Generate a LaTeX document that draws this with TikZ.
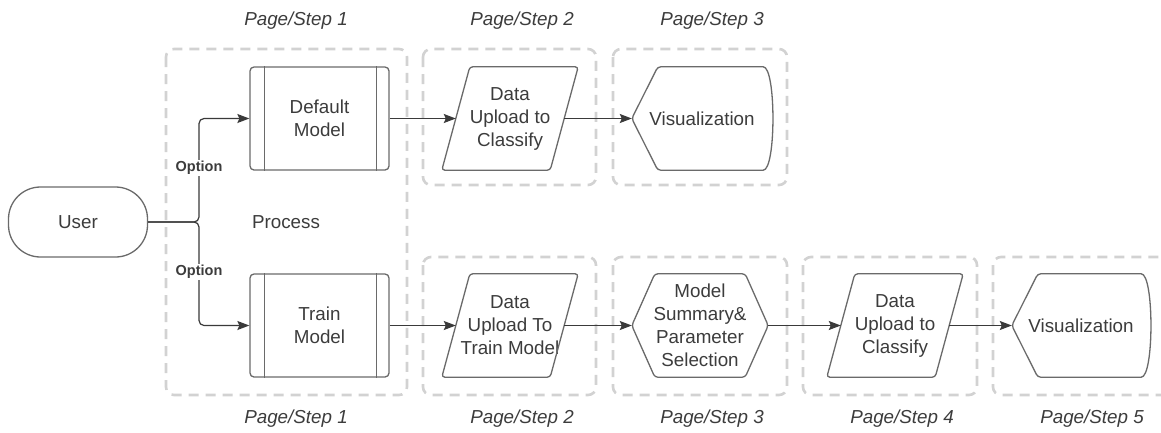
\documentclass[tikz,border=0pt]{standalone}
\usepackage{fontspec}
\setmainfont{Liberation Sans}
\usetikzlibrary{arrows.meta}
\definecolor{txt}{HTML}{3C3C3C}
\definecolor{edge}{HTML}{6A6A6A}
\definecolor{conncol}{HTML}{3A3A3A}
\definecolor{dash}{HTML}{D2D2D2}
\tikzset{
  lbl/.style={text=txt, font=\fontsize{18.8}{23}\selectfont, align=center, inner sep=0pt},
  hold/.style={lbl, minimum height=103pt},
  shp/.style={draw=edge, line width=1.3pt, rounded corners=3pt},
  conn/.style={draw=conncol, line width=1.2pt, -{Stealth[length=12pt,width=9pt,inset=2pt]}},
  grp/.style={draw=dash, line width=2.6pt, dash pattern=on 10pt off 7pt, rounded corners=8pt},
  steplbl/.style={text=txt, font=\fontsize{18.8}{23}\selectfont\itshape, inner sep=0pt},
  opt/.style={text=txt, font=\fontsize{14.5}{16}\selectfont\bfseries, fill=white, inner sep=1.5pt}
}
\begin{document}
\begin{tikzpicture}[x=1pt,y=-1pt]
\useasboundingbox (0,0) rectangle (1161,432);
\clip (0,0) rectangle (1161,432);
\fill[white] (0,0) rectangle (1161,432);

% group boxes
\draw[grp] (166,49) rectangle (407,395);
\draw[grp] (423,49) rectangle (596,185);
\draw[grp] (613,49) rectangle (787,185);
\draw[grp] (423,257) rectangle (596,395);
\draw[grp] (613,257) rectangle (787,395);
\draw[grp] (803,257) rectangle (977,395);
\draw[grp] (993,257) rectangle (1185,395);

% step labels
\node[steplbl] (s1t) at (296,21) {Page/Step 1};
\node[steplbl] (s2t) at (522,21) {Page/Step 2};
\node[steplbl] (s3t) at (712,21) {Page/Step 3};
\node[steplbl] (s1b) at (296,419) {Page/Step 1};
\node[steplbl] (s2b) at (522,419) {Page/Step 2};
\node[steplbl] (s3b) at (712,419) {Page/Step 3};
\node[steplbl] (s4b) at (902,419) {Page/Step 4};
\node[steplbl] (s5b) at (1092,419) {Page/Step 5};

% user
\node[lbl, shp, rounded corners=32pt, minimum width=139pt, minimum height=70pt] (user) at (78,222) {User};

% process boxes
\node[lbl, shp, rounded corners=4pt, minimum width=139pt, minimum height=103pt] (default) at (319.5,118.5) {Default\\Model};
\draw[shp, rounded corners=0pt] ([xshift=15pt]default.north west) -- ([xshift=15pt]default.south west);
\draw[shp, rounded corners=0pt] ([xshift=-13pt]default.north east) -- ([xshift=-13pt]default.south east);

\node[lbl, shp, rounded corners=4pt, minimum width=139pt, minimum height=103pt] (train) at (319.5,325.5) {Train\\Model};
\draw[shp, rounded corners=0pt] ([xshift=15pt]train.north west) -- ([xshift=15pt]train.south west);
\draw[shp, rounded corners=0pt] ([xshift=-13pt]train.north east) -- ([xshift=-13pt]train.south east);

\node[lbl] (process) at (286,222) {Process};

% top row
\node[hold, minimum width=108pt] (up1) at (510,118.5) {Data\\Upload to\\Classify};
\draw[shp] ([xshift=-14pt]up1.south west) -- ([xshift=14pt]up1.north west) -- ([xshift=14pt]up1.north east) -- ([xshift=-14pt]up1.south east) -- cycle;

\node[hold, minimum width=140pt] (vis1) at (702,118.5) {Visualization};
\draw[shp] (vis1.west) -- ([xshift=26pt]vis1.north west) -- ([xshift=-12pt]vis1.north east)
  .. controls ([xshift=4pt]vis1.north east) and ([xshift=4pt]vis1.south east) .. ([xshift=-12pt]vis1.south east)
  -- ([xshift=26pt]vis1.south west) -- cycle;

% bottom row
\node[hold, minimum width=108pt] (up2) at (510,325.5) {Data\\Upload To\\Train Model};
\draw[shp] ([xshift=-14pt]up2.south west) -- ([xshift=14pt]up2.north west) -- ([xshift=14pt]up2.north east) -- ([xshift=-14pt]up2.south east) -- cycle;

\node[hold, minimum width=136pt] (hex) at (700,325.5) {Model\\Summary\&\\Parameter\\Selection};
\draw[shp] (hex.west) -- ([xshift=23pt]hex.north west) -- ([xshift=-23pt]hex.north east) -- (hex.east)
  -- ([xshift=-23pt]hex.south east) -- ([xshift=23pt]hex.south west) -- cycle;

\node[hold, minimum width=108pt] (up3) at (895,325.5) {Data\\Upload to\\Classify};
\draw[shp] ([xshift=-14pt]up3.south west) -- ([xshift=14pt]up3.north west) -- ([xshift=14pt]up3.north east) -- ([xshift=-14pt]up3.south east) -- cycle;

\node[hold, minimum width=138pt] (vis2) at (1081,325.5) {Visualization};
\draw[shp] (vis2.west) -- ([xshift=26pt]vis2.north west) -- ([xshift=-12pt]vis2.north east)
  .. controls ([xshift=4pt]vis2.north east) and ([xshift=4pt]vis2.south east) .. ([xshift=-12pt]vis2.south east)
  -- ([xshift=26pt]vis2.south west) -- cycle;

% connectors
\coordinate (j) at (199,222);
\draw[conn, rounded corners=5pt] (user.east) -- (j) |- (default.west);
\draw[conn, rounded corners=5pt] (user.east) -- (j) |- (train.west);
\node[opt] (o1) at (199,168) {Option};
\node[opt] (o2) at (199,272) {Option};

\draw[conn] (default.east) -- (up1.west);
\draw[conn] (up1.east) -- (vis1.west);
\draw[conn] (train.east) -- (up2.west);
\draw[conn] (up2.east) -- (hex.west);
\draw[conn] (hex.east) -- (up3.west);
\draw[conn] (up3.east) -- (vis2.west);
\end{tikzpicture}
\end{document}
